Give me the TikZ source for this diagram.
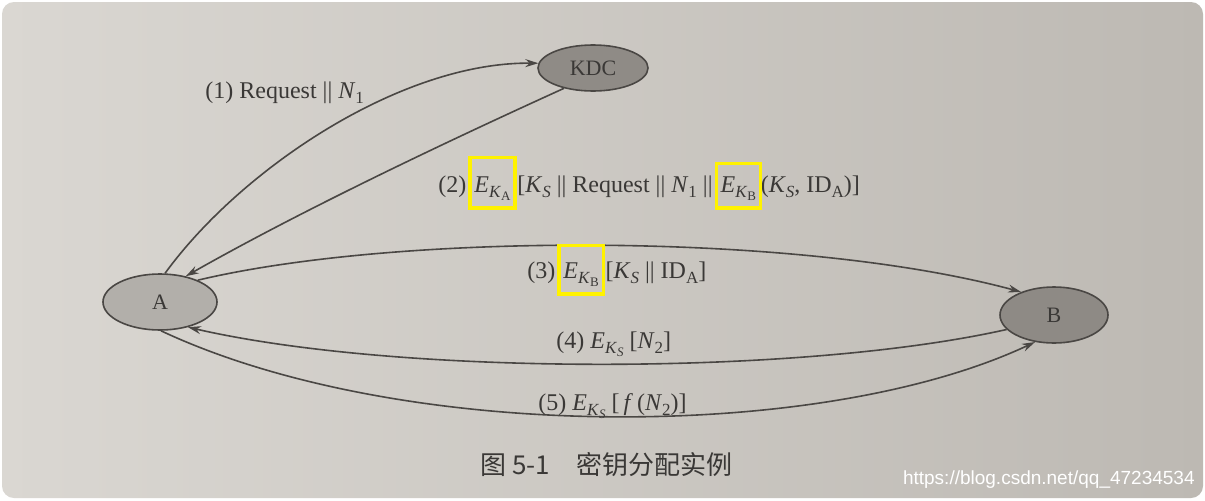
\documentclass[tikz,border=0pt]{standalone}
\usepackage{fontspec}
\setmainfont{Liberation Serif}
\newfontfamily\cjkfont{Noto Sans CJK SC}
\newfontfamily\wmfont{Liberation Sans}
\usetikzlibrary{shapes.geometric,arrows.meta,calc}
\definecolor{paperL}{HTML}{DAD7D2}
\definecolor{paperR}{HTML}{BDB9B3}
\definecolor{ink}{HTML}{3A3836}
\definecolor{edge}{HTML}{4A4744}
\definecolor{fillA}{HTML}{B2AFAA}
\definecolor{fillB}{HTML}{8E8A85}
\definecolor{fillK}{HTML}{8F8B86}
\definecolor{hlyellow}{HTML}{FFF200}
\newcommand\subA[1]{\raisebox{-0.5ex}{\fontsize{8.5}{9}\selectfont #1}}
\newcommand\subB[1]{\raisebox{-0.4ex}{\fontsize{6.5}{7}\selectfont #1}}
\newcommand\EK[1]{\textit{E}\subA{\textit{K}\subB{#1}}}
\newcommand\KS{\textit{K}\subA{\textit{S}}}
\newcommand\NN[1]{\textit{N}\subA{#1}}
\newcommand\tsp{\hspace*{0.3em}\null}
\begin{document}
\begin{tikzpicture}[x=0.5pt,y=0.5pt,
  party/.style={ellipse, draw=edge, line width=0.8pt, inner sep=0pt, text=ink, font=\fontsize{11}{12}\selectfont},
  msg/.style={draw=edge, line width=0.8pt, -{Stealth[length=6.5pt,width=4pt]}},
  lbl/.style={inner sep=0pt, text=ink, font=\fontsize{12}{14}\selectfont, anchor=base west},
  hlbox/.style={draw=hlyellow, line width=1.6pt}]
\useasboundingbox (0,0) rectangle (1205,500);
\fill[white] (0,0) rectangle (1205,500);
\shade[left color=paperL, right color=paperR, rounded corners=6pt] (2,2) rectangle (1203,498);
% parties
\node[party, fill=fillA, minimum width=57pt, minimum height=28pt] (A) at (160,198) {A};
\node[party, fill=fillB, minimum width=54pt, minimum height=28pt] (B) at (1054,185) {B};
\node[party, fill=fillK, minimum width=55pt, minimum height=23pt] (KDC) at (593,432) {KDC};
% messages
\draw[msg] (A.80) .. controls (240,330) and (400,438) .. (KDC.175);
\draw[msg] (KDC.215) .. controls (490,378) and (320,300) .. (A.45);
\draw[msg] (A.30) .. controls (400,268) and (800,268) .. (B.145);
\draw[msg] (B.197) .. controls (800,124) and (400,124) .. (A.-42);
\draw[msg] (A.-88) .. controls (400,57) and (820,57) .. (B.-125);
% labels
\node[lbl] (l1) at (205,402) {(1) Request || \NN{1}};
\node[lbl] (l2a) at (438,308) {(2)\tsp};
\node[lbl] (l2b) at (l2a.base east) {\EK{A}};
\node[lbl] (l2c) at (l2b.base east) {\ [\KS\ || Request || \NN{1} ||\tsp};
\node[lbl] (l2d) at (l2c.base east) {\EK{B}};
\node[lbl] (l2e) at (l2d.base east) {\,(\KS, ID\subA{A})]};
\node[lbl] (l3a) at (527,222) {(3)\tsp};
\node[lbl] (l3b) at (l3a.base east) {\EK{B}};
\node[lbl] (l3c) at (l3b.base east) {\ [\KS\ || ID\subA{A}]};
\node[lbl] (l4) at (556,152) {(4) \EK{\textit{S}}\ [\NN{2}]};
\node[lbl] (l5) at (538,90) {(5) \EK{\textit{S}}\ [\,\textit{f}\,(\NN{2})]};
% highlight boxes
\draw[hlbox] ($(l2b.south west)+(-2pt,-3.5pt)$) rectangle ($(l2b.north east)+(2pt,9pt)$);
\draw[hlbox] ($(l2d.south west)+(-2pt,-3.5pt)$) rectangle ($(l2d.north east)+(2pt,6pt)$);
\draw[hlbox] ($(l3b.south west)+(-2pt,-3.5pt)$) rectangle ($(l3b.north east)+(2pt,8pt)$);
% caption and watermark
\node[inner sep=0pt, anchor=west, text=ink, font=\cjkfont\fontsize{13}{14}\selectfont] (cap) at (480,35) {图 5-1\quad 密钥分配实例};
\node[inner sep=0pt, anchor=east, text=white, font=\wmfont\fontsize{9.5}{10}\selectfont] (wm) at (1195,20) {https://blog.csdn.net/qq\_47234534};
\end{tikzpicture}
\end{document}
